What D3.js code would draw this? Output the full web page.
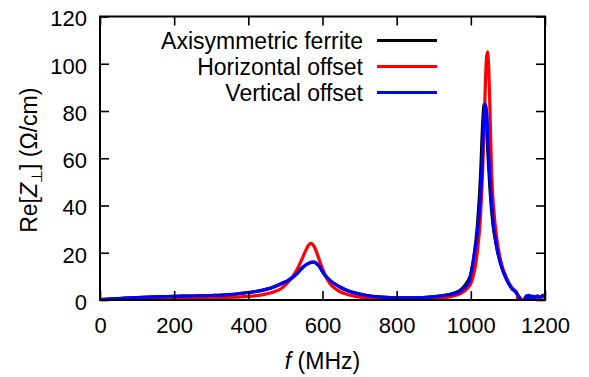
<!DOCTYPE html>
<html><head><meta charset="utf-8">
<script src="https://cdn.jsdelivr.net/npm/d3@7"></script>
<style>
html,body{margin:0;padding:0;background:#fff;}
svg text{font-family:"Liberation Sans",Arial,sans-serif;fill:#000;}
</style></head>
<body><svg id="chart" width="589" height="377"></svg>
<script>
// Data
const xTicks = [0,200,400,600,800,1000,1200];
const yTicks = [0,20,40,60,80,100,120];
const seriesNames = ["Axisymmetric ferrite","Horizontal offset","Vertical offset"];
const seriesColors = ["#000000","#ff0000","#0000ff"];

const axisymmetric = [[0,0.2],[50,0.6],[100,1.0],[150,1.3],[200,1.5],[250,1.7],[300,1.9],[350,2.3],[380,2.8],[420,3.6],[450,4.6],[470,5.6],[490,7.0],[510,8.5],[530,11.0],[548,14.0],[562,15.5],[575,16.0],[590,14.5],[602,11.5],[620,8.3],[647,5.5],[670,3.8],[692,2.8],[728,1.7],[760,1.2],[800,0.9],[850,0.9],[880,1.1],[910,1.5],[940,2.3],[960,3.2],[975,4.6],[990,7.5],[1000,11],[1008,18],[1018,32],[1026,52],[1032,75],[1036,83],[1040,80],[1046,62],[1052,46],[1059,33],[1069,23],[1080,15.5],[1097,8.5],[1110,5],[1124,2.8],[1130,1.2],[1134,0],[1140,-0.6],[1145,0.2],[1150,1.8],[1153,0.5],[1156,2.0],[1160,1.2],[1163,1.7],[1167,0.8],[1170,1.5],[1175,1.0],[1180,1.7],[1185,1.1],[1190,1.4],[1195,2.0],[1200,1.5]];

const horizontal = [[0,0],[100,0.2],[200,0.5],[300,0.9],[400,1.5],[440,2.3],[470,3.5],[490,5.0],[504,7.0],[520,10],[535,14],[548,18.5],[558,22],[568,24],[578,22.5],[588,18.5],[598,14],[607,10.6],[620,7.0],[640,4.2],[660,2.7],[690,1.5],[730,0.8],[800,0.4],[880,0.4],[920,0.8],[950,1.6],[975,3],[1000,7],[1006,10],[1012,14],[1018,21],[1025,33],[1032,55],[1038,85],[1042,102],[1045,105],[1048,99],[1052,78],[1056,54],[1062,38],[1070,26],[1080,17],[1097,9],[1110,5.3],[1124,3],[1128,-0.8],[1132,1.2],[1136,0],[1142,0.3],[1150,-0.6],[1153,0.8],[1160,1.0],[1170,1.2],[1180,1.4],[1190,1.2],[1200,1.3]];

const vertical = [[0,0.2],[50,0.6],[100,1.0],[150,1.3],[200,1.5],[250,1.7],[300,1.9],[350,2.3],[380,2.8],[420,3.6],[450,4.6],[470,5.6],[490,7.0],[510,8.5],[530,11.0],[548,14.0],[562,15.5],[577,16.0],[590,14.6],[602,11.5],[620,8.3],[647,5.5],[670,3.8],[692,2.8],[728,1.7],[760,1.2],[800,0.9],[850,0.9],[880,1.1],[910,1.5],[940,2.2],[966,3.2],[980,4.8],[996,8],[1000,11],[1006,16],[1011,21],[1020,32],[1029,52],[1035,76],[1039,83],[1043,79],[1048,62],[1053,47],[1060,33],[1069,23],[1080,15.5],[1097,8.5],[1110,5],[1124,2.8],[1130,1.2],[1134,0],[1140,-0.6],[1145,0.2],[1150,1.8],[1153,0.5],[1156,2.0],[1160,1.2],[1163,1.7],[1167,0.8],[1170,1.5],[1175,1.0],[1180,1.7],[1185,1.1],[1190,1.4],[1195,2.0],[1200,1.5]];

const allSeries = [axisymmetric, horizontal, vertical];

const svg = d3.select("#chart");
const L = 100, R = 545, T = 16.5, B = 300;
const x = d3.scaleLinear().domain([0,1200]).range([L,R]);
const y = d3.scaleLinear().domain([0,120]).range([B,T]);

svg.append("defs").append("clipPath").attr("id","clip")
  .append("rect").attr("x",L).attr("y",T).attr("width",R-L).attr("height",B-T);

const line = d3.line().x(d=>x(d[0])).y(d=>y(d[1])).curve(d3.curveMonotoneX);
const g = svg.append("g").attr("clip-path","url(#clip)");
allSeries.forEach((s,i)=>{
  g.append("path").datum(s).attr("d",line)
   .attr("fill","none").attr("stroke",seriesColors[i])
   .attr("stroke-width",3.2).attr("stroke-linejoin","round");
});

// axes with inward ticks
const tickLen = 9;
const fmt = d3.format("d");
const axB = svg.append("g").attr("transform",`translate(0,${B})`)
  .call(d3.axisBottom(x).tickValues(xTicks).tickSize(-tickLen).tickFormat(fmt));
const axT = svg.append("g").attr("transform",`translate(0,${T})`)
  .call(d3.axisTop(x).tickValues(xTicks).tickSize(-tickLen).tickFormat(""));
const axL = svg.append("g").attr("transform",`translate(${L},0)`)
  .call(d3.axisLeft(y).tickValues(yTicks).tickSize(-tickLen).tickPadding(13).tickFormat(fmt));
const axR = svg.append("g").attr("transform",`translate(${R},0)`)
  .call(d3.axisRight(y).tickValues(yTicks).tickSize(-tickLen).tickFormat(""));
[axB,axT,axL,axR].forEach(a=>{
  a.select(".domain").remove();
  a.selectAll(".tick line").attr("stroke","#000").attr("stroke-width",1.6);
  a.selectAll("text").style("font-size","22px").attr("fill","#000");
});
axL.selectAll(".tick text").attr("dy","0.42em");
axB.selectAll(".tick text").attr("dy","0.71em").attr("y",17);

svg.append("rect").attr("x",L).attr("y",T).attr("width",R-L).attr("height",B-T)
  .attr("fill","none").attr("stroke","#000").attr("stroke-width",2);

// legend
const leg = svg.append("g");
seriesNames.forEach((n,i)=>{
  const yy = 40.5 + i*26;
  leg.append("text").attr("x",363).attr("y",yy+8).attr("text-anchor","end")
    .style("font-size","23px").text(n);
  leg.append("line").attr("x1",377).attr("x2",437).attr("y1",yy).attr("y2",yy)
    .attr("stroke",seriesColors[i]).attr("stroke-width",3);
});

// axis labels
const xl = svg.append("text").attr("x",(L+R)/2).attr("y",369).attr("text-anchor","middle")
  .style("font-size","23px");
xl.append("tspan").style("font-style","italic").text("f");
xl.append("tspan").text(" (MHz)");

const yl = svg.append("text").attr("transform",`translate(37,${(T+B)/2+2}) rotate(-90)`)
  .attr("text-anchor","middle").style("font-size","23px");
yl.append("tspan").text("Re[");
yl.append("tspan").style("font-style","italic").text("Z");
yl.append("tspan").attr("dy","5").style("font-size","15px").text("⊥");
yl.append("tspan").attr("dy","-5").text("] (Ω/cm)");
</script></body></html>
